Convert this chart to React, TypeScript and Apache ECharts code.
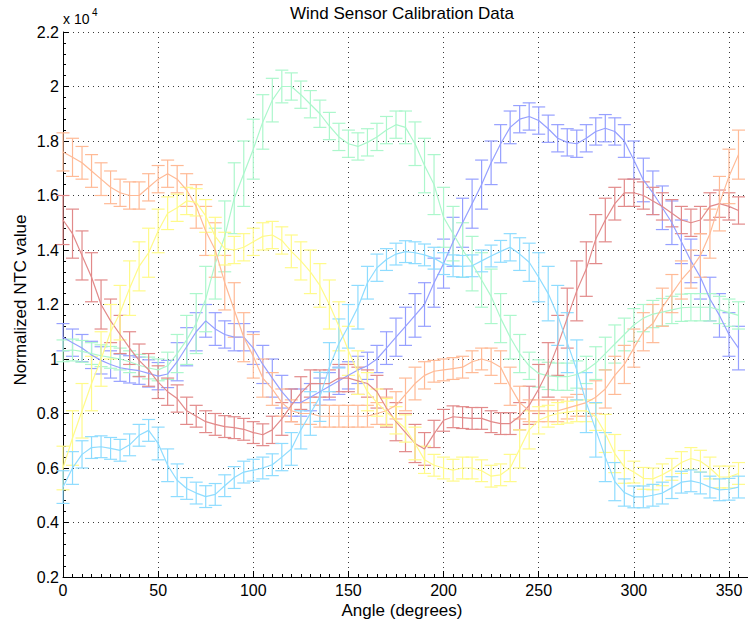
import React, { useEffect, useRef } from "react";
import * as echarts from "echarts";

const angles = [
  0, 5, 10, 15, 20, 25, 30, 35, 40, 45, 50, 55,
  60, 65, 70, 75, 80, 85, 90, 95, 100, 105, 110, 115,
  120, 125, 130, 135, 140, 145, 150, 155, 160, 165, 170, 175,
  180, 185, 190, 195, 200, 205, 210, 215, 220, 225, 230, 235,
  240, 245, 250, 255, 260, 265, 270, 275, 280, 285, 290, 295,
  300, 305, 310, 315, 320, 325, 330, 335, 340, 345, 350, 355,
];

const xTicks = [0, 50, 100, 150, 200, 250, 300, 350];
const yTicks = [0.2, 0.4, 0.6, 0.8, 1, 1.2, 1.4, 1.6, 1.8, 2, 2.2];

const blueMean = [
  1.08, 1.06, 1.04, 1.015, 0.995, 0.98, 0.968, 0.962, 0.957, 0.947, 0.937, 0.945,
  0.99, 1.045, 1.1, 1.14, 1.11, 1.09, 1.08, 1.08, 1.04, 0.98, 0.93, 0.88,
  0.84, 0.84, 0.86, 0.88, 0.9, 0.92, 0.94, 0.96, 0.975, 1.0, 1.04, 1.08,
  1.12, 1.16, 1.2, 1.28, 1.35, 1.43, 1.5, 1.57, 1.64, 1.72, 1.79, 1.85,
  1.88, 1.89, 1.875, 1.845, 1.81, 1.795, 1.79, 1.81, 1.835, 1.847, 1.835, 1.8,
  1.73, 1.657, 1.61, 1.555, 1.5, 1.43, 1.36, 1.3, 1.22, 1.16, 1.09, 1.04,
];
const blueErr = [
  0.05, 0.05, 0.05, 0.05, 0.05, 0.05, 0.05, 0.05, 0.05, 0.05, 0.05, 0.05,
  0.07, 0.07, 0.07, 0.06, 0.06, 0.05, 0.05, 0.05, 0.06, 0.07, 0.07, 0.06,
  0.05, 0.05, 0.05, 0.05, 0.05, 0.05, 0.05, 0.05, 0.05, 0.05, 0.06, 0.07,
  0.07, 0.08, 0.08, 0.09, 0.09, 0.09, 0.09, 0.09, 0.09, 0.08, 0.07, 0.06,
  0.05, 0.05, 0.05, 0.05, 0.05, 0.05, 0.05, 0.05, 0.05, 0.05, 0.05, 0.06,
  0.07, 0.08, 0.08, 0.08, 0.08, 0.08, 0.08, 0.08, 0.08, 0.08, 0.08, 0.08,
];

const greenMean = [
  1.03, 1.033, 1.028, 1.02, 1.012, 1.006, 1.0, 0.99, 0.977, 0.967, 0.96, 0.975,
  1.02, 1.07, 1.13, 1.22, 1.35, 1.45, 1.59, 1.68, 1.77, 1.87, 1.95, 2.0,
  2.0, 1.97, 1.935, 1.9, 1.855, 1.815, 1.79, 1.78, 1.795, 1.815, 1.84, 1.86,
  1.85, 1.79, 1.71, 1.64, 1.52, 1.46, 1.4, 1.35, 1.29, 1.23, 1.15, 1.08,
  1.02, 0.975, 0.947, 0.938, 0.935, 0.935, 0.943, 0.96, 0.985, 1.02, 1.055, 1.09,
  1.125, 1.15, 1.165, 1.172, 1.18, 1.188, 1.19, 1.19, 1.19, 1.18, 1.17, 1.16,
];
const greenErr = [
  0.04, 0.04, 0.04, 0.04, 0.04, 0.04, 0.04, 0.04, 0.04, 0.04, 0.04, 0.05,
  0.07, 0.09, 0.11, 0.12, 0.13, 0.13, 0.13, 0.12, 0.11, 0.1, 0.08, 0.06,
  0.05, 0.05, 0.05, 0.05, 0.05, 0.05, 0.05, 0.05, 0.05, 0.05, 0.05, 0.05,
  0.06, 0.08, 0.1, 0.11, 0.11, 0.1, 0.1, 0.1, 0.1, 0.1, 0.09, 0.08,
  0.07, 0.05, 0.05, 0.05, 0.05, 0.05, 0.05, 0.05, 0.06, 0.06, 0.07, 0.06,
  0.06, 0.05, 0.05, 0.05, 0.05, 0.05, 0.05, 0.05, 0.05, 0.05, 0.05, 0.05,
];

const redMean = [
  1.51, 1.46, 1.38, 1.3, 1.2, 1.14, 1.09, 1.04, 0.995, 0.96, 0.915, 0.88,
  0.855, 0.81, 0.79, 0.77, 0.76, 0.752, 0.748, 0.742, 0.73, 0.722, 0.74, 0.78,
  0.83, 0.875, 0.91, 0.91, 0.91, 0.93, 0.93, 0.92, 0.91, 0.88, 0.82, 0.77,
  0.73, 0.69, 0.67, 0.725, 0.775, 0.788, 0.785, 0.782, 0.782, 0.77, 0.763, 0.763,
  0.79, 0.83, 0.89, 0.96, 1.05, 1.15, 1.25, 1.33, 1.44, 1.51, 1.57, 1.61,
  1.61, 1.6, 1.58, 1.56, 1.535, 1.51, 1.5, 1.51, 1.56, 1.57, 1.56, 1.545,
];
const redErr = [
  0.09, 0.09, 0.09, 0.09, 0.09, 0.08, 0.07, 0.06, 0.06, 0.06, 0.06, 0.05,
  0.05, 0.05, 0.04, 0.04, 0.04, 0.04, 0.04, 0.04, 0.04, 0.04, 0.05, 0.06,
  0.06, 0.06, 0.05, 0.05, 0.05, 0.05, 0.05, 0.05, 0.05, 0.06, 0.07, 0.07,
  0.07, 0.07, 0.06, 0.05, 0.04, 0.04, 0.04, 0.04, 0.04, 0.04, 0.04, 0.04,
  0.05, 0.07, 0.09, 0.1, 0.11, 0.11, 0.11, 0.1, 0.09, 0.08, 0.06, 0.05,
  0.05, 0.05, 0.05, 0.05, 0.05, 0.05, 0.05, 0.05, 0.05, 0.05, 0.05, 0.05,
];

const orangeMean = [
  1.76, 1.74, 1.72, 1.69, 1.66, 1.63, 1.61, 1.6, 1.6, 1.63, 1.66, 1.68,
  1.66, 1.62, 1.56, 1.47, 1.4, 1.28, 1.18, 1.08, 1.01, 0.93, 0.89, 0.84,
  0.81, 0.8, 0.8, 0.79, 0.79, 0.79, 0.79, 0.79, 0.79, 0.8, 0.81, 0.83,
  0.87, 0.91, 0.94, 0.955, 0.96, 0.965, 0.97, 0.99, 1.0, 0.99, 0.97, 0.9,
  0.84, 0.81, 0.81, 0.81, 0.81, 0.82, 0.83, 0.84, 0.86, 0.89, 0.94, 0.98,
  1.04, 1.1, 1.13, 1.19, 1.24, 1.29, 1.33, 1.38, 1.46, 1.57, 1.67, 1.75,
];
const orangeErr = [
  0.07, 0.07, 0.06, 0.06, 0.06, 0.06, 0.05, 0.05, 0.05, 0.05, 0.05, 0.05,
  0.05, 0.06, 0.08, 0.09, 0.1, 0.1, 0.1, 0.09, 0.08, 0.07, 0.06, 0.05,
  0.04, 0.04, 0.04, 0.04, 0.04, 0.04, 0.04, 0.04, 0.04, 0.04, 0.05, 0.05,
  0.06, 0.06, 0.05, 0.04, 0.04, 0.04, 0.04, 0.04, 0.04, 0.05, 0.06, 0.07,
  0.06, 0.04, 0.04, 0.04, 0.04, 0.04, 0.04, 0.05, 0.06, 0.07, 0.07, 0.07,
  0.07, 0.07, 0.07, 0.07, 0.07, 0.07, 0.07, 0.08, 0.09, 0.1, 0.1, 0.09,
];

const yellowMean = [
  0.6, 0.71, 0.81, 0.91, 1.0, 1.1, 1.17, 1.26, 1.34, 1.39, 1.47, 1.535,
  1.555, 1.58, 1.575, 1.525, 1.45, 1.405, 1.4, 1.41, 1.43, 1.45, 1.455, 1.435,
  1.395, 1.36, 1.32, 1.27, 1.2, 1.12, 1.03, 0.95, 0.88, 0.84, 0.805, 0.775,
  0.745, 0.69, 0.63, 0.61, 0.6, 0.592, 0.6, 0.6, 0.59, 0.57, 0.575, 0.6,
  0.67, 0.74, 0.775, 0.79, 0.8, 0.805, 0.81, 0.81, 0.788, 0.727, 0.653, 0.604,
  0.585, 0.562, 0.56, 0.575, 0.595, 0.62, 0.635, 0.625, 0.6, 0.567, 0.567, 0.58,
];
const yellowErr = [
  0.08, 0.1, 0.1, 0.1, 0.1, 0.1, 0.1, 0.1, 0.09, 0.09, 0.08, 0.06,
  0.05, 0.05, 0.05, 0.06, 0.07, 0.06, 0.05, 0.05, 0.05, 0.05, 0.05, 0.05,
  0.06, 0.07, 0.08, 0.08, 0.09, 0.09, 0.09, 0.08, 0.07, 0.05, 0.05, 0.05,
  0.05, 0.06, 0.05, 0.04, 0.04, 0.04, 0.04, 0.04, 0.04, 0.04, 0.04, 0.05,
  0.07, 0.07, 0.05, 0.04, 0.04, 0.04, 0.04, 0.04, 0.05, 0.07, 0.07, 0.06,
  0.04, 0.04, 0.04, 0.04, 0.04, 0.04, 0.04, 0.04, 0.04, 0.04, 0.04, 0.04,
];

const cyanMean = [
  0.53, 0.6, 0.65, 0.675, 0.678, 0.672, 0.665, 0.685, 0.72, 0.738, 0.69, 0.61,
  0.555, 0.525, 0.508, 0.495, 0.503, 0.535, 0.565, 0.585, 0.592, 0.6, 0.612, 0.64,
  0.67, 0.74, 0.8, 0.861, 0.97, 1.057, 1.12, 1.19, 1.28, 1.335, 1.365, 1.385,
  1.394, 1.39, 1.382, 1.37, 1.35, 1.342, 1.34, 1.342, 1.36, 1.378, 1.395, 1.41,
  1.385, 1.355, 1.3, 1.24, 1.16, 1.06, 0.96, 0.84, 0.74, 0.64, 0.55, 0.51,
  0.494, 0.494, 0.5, 0.508, 0.528, 0.548, 0.553, 0.545, 0.53, 0.52, 0.522, 0.53,
];
const cyanErr = [
  0.06, 0.06, 0.05, 0.04, 0.04, 0.04, 0.04, 0.04, 0.04, 0.04, 0.06, 0.06,
  0.06, 0.04, 0.04, 0.04, 0.04, 0.04, 0.04, 0.04, 0.04, 0.04, 0.04, 0.05,
  0.06, 0.07, 0.08, 0.09, 0.09, 0.09, 0.08, 0.08, 0.06, 0.05, 0.04, 0.04,
  0.04, 0.04, 0.04, 0.04, 0.04, 0.04, 0.04, 0.04, 0.04, 0.04, 0.04, 0.05,
  0.06, 0.07, 0.09, 0.1, 0.11, 0.11, 0.11, 0.11, 0.1, 0.09, 0.07, 0.05,
  0.04, 0.04, 0.04, 0.04, 0.04, 0.04, 0.04, 0.04, 0.04, 0.04, 0.04, 0.04,
];

const seriesDefs = [
  { name: "Sensor 1", color: "#96a0ff", mean: blueMean, err: blueErr },
  { name: "Sensor 2", color: "#acf7cc", mean: greenMean, err: greenErr },
  { name: "Sensor 3", color: "#e28a8a", mean: redMean, err: redErr },
  { name: "Sensor 4", color: "#ffba96", mean: orangeMean, err: orangeErr },
  { name: "Sensor 5", color: "#fffa8a", mean: yellowMean, err: yellowErr },
  { name: "Sensor 6", color: "#8edcff", mean: cyanMean, err: cyanErr },
];

const FONT = "'Liberation Sans', Arial, Helvetica, sans-serif";

export default function App() {
  const ref = useRef<HTMLDivElement>(null);

  useEffect(() => {
    if (!ref.current) return;
    const chart = echarts.init(ref.current, undefined, { renderer: "svg" });

    const series: any[] = [];
    seriesDefs.forEach((s) => {
      const color = s.color;
      series.push({
        type: "custom",
        name: s.name + " error",
        data: angles.map((a, i) => [a, s.mean[i] - s.err[i], s.mean[i] + s.err[i]]),
        encode: { x: 0, y: [1, 2] },
        renderItem: (params: any, api: any) => {
          const x = api.value(0);
          const lo = api.coord([x, api.value(1)]);
          const hi = api.coord([x, api.value(2)]);
          const hw = 6.5;
          const st = { stroke: color, lineWidth: 1.2 };
          return {
            type: "group",
            children: [
              { type: "line", shape: { x1: lo[0], y1: lo[1], x2: hi[0], y2: hi[1] }, style: st },
              { type: "line", shape: { x1: lo[0] - hw, y1: lo[1], x2: lo[0] + hw, y2: lo[1] }, style: st },
              { type: "line", shape: { x1: hi[0] - hw, y1: hi[1], x2: hi[0] + hw, y2: hi[1] }, style: st },
            ],
          };
        },
        z: 2,
      });
      series.push({
        type: "line",
        name: s.name,
        data: angles.map((a, i) => [a, s.mean[i]]),
        showSymbol: false,
        symbol: "none",
        lineStyle: { color, width: 1.2 },
        itemStyle: { color },
        z: 3,
      });
    });

    const axisCommon = {
      axisLine: { show: true, lineStyle: { color: "#000", width: 1 } },
      axisTick: { show: true, inside: true, length: 6, lineStyle: { color: "#000" } },
      splitLine: { show: true, lineStyle: { color: "#3a3a3a", type: [1, 4], width: 1 } },
    };

    chart.setOption({
      animation: false,
      textStyle: { fontFamily: FONT },
      grid: { left: 63, top: 32, width: 691, height: 545, containLabel: false },
      xAxis: {
        type: "value",
        min: 0,
        max: 360,
        interval: 50,
        ...axisCommon,
        minorTick: { show: true, splitNumber: 10, length: 3, lineStyle: { color: "#000" } },
        axisLabel: {
          color: "#000",
          fontSize: 16,
          margin: 5,
          fontFamily: FONT,
          showMaxLabel: false,
          formatter: (v: number) => (xTicks.includes(v) ? String(v) : ""),
        },
      },
      yAxis: {
        type: "value",
        min: 0.2,
        max: 2.2,
        interval: 0.2,
        ...axisCommon,
        minorTick: { show: true, splitNumber: 5, length: 3, lineStyle: { color: "#000" } },
        axisLabel: {
          color: "#000",
          fontSize: 16,
          margin: 4,
          fontFamily: FONT,
          formatter: (v: number) => {
            const r = Math.round(v * 10) / 10;
            const t = yTicks.find((k) => Math.abs(k - r) < 1e-6);
            return t === undefined ? "" : String(t);
          },
        },
      },
      graphic: [
        {
          type: "text",
          x: 402,
          y: 13,
          style: {
            text: "Wind Sensor Calibration Data",
            font: `17px ${FONT}`,
            fill: "#000",
            textAlign: "center",
            textVerticalAlign: "middle",
          },
        },
        {
          type: "text",
          x: 402,
          y: 610,
          style: {
            text: "Angle (degrees)",
            font: `17px ${FONT}`,
            fill: "#000",
            textAlign: "center",
            textVerticalAlign: "middle",
          },
        },
        {
          type: "text",
          x: 20,
          y: 300,
          rotation: Math.PI / 2,
          style: {
            text: "Normalized NTC value",
            font: `17px ${FONT}`,
            fill: "#000",
            textAlign: "center",
            textVerticalAlign: "middle",
          },
        },
        {
          type: "text",
          x: 63,
          y: 19,
          style: {
            text: "x 10",
            font: `14px ${FONT}`,
            fill: "#000",
            textAlign: "left",
            textVerticalAlign: "middle",
          },
        },
        {
          type: "text",
          x: 92,
          y: 12,
          style: {
            text: "4",
            font: `10px ${FONT}`,
            fill: "#000",
            textAlign: "left",
            textVerticalAlign: "middle",
          },
        },
      ],
      series,
    });

    return () => {
      chart.dispose();
    };
  }, []);

  return (
    <div
      ref={ref}
      style={{ position: "absolute", left: 0, top: 0, width: 748, height: 623, background: "#fff" }}
    />
  );
}
